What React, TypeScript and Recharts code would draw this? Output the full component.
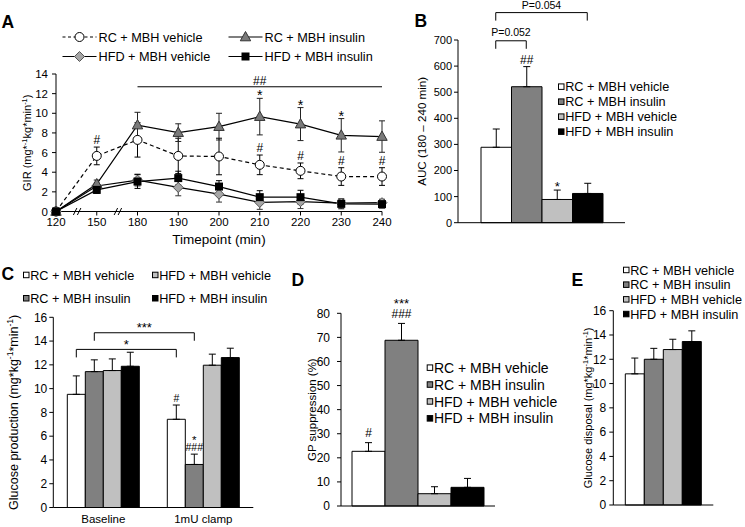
import React from 'react';
import { LineChart, Line, BarChart, Bar, XAxis, YAxis, ErrorBar, LabelList, ReferenceLine } from 'recharts';

const FONT = '"Liberation Sans", Arial, Helvetica, sans-serif';
const INK = '#000';

// groups shared by every panel
const groupNames = ['RC + MBH vehicle', 'RC + MBH insulin', 'HFD + MBH vehicle', 'HFD + MBH insulin'];
const groupFills = ['#ffffff', '#808080', '#c0c0c0', '#000000'];

// A: glucose infusion rate over time
const timepoints = ['120', '150', '180', '190', '200', '210', '220', '230', '240'];
const girRcVeh = [0, 5.66, 7.29, 5.66, 5.6, 4.75, 4.14, 3.56, 3.56];
const girRcVehErr = [0, 0.9, 1.75, 1.8, 1.86, 1.0, 0.8, 0.9, 0.9];
const girRcIns = [0, 2.8, 8.8, 8.03, 8.64, 9.66, 8.9, 7.76, 7.63];
const girRcInsErr = [0, 0.4, 1.3, 0.9, 1.36, 1.86, 1.68, 1.7, 1.6];
const girHfdVeh = [0, 2.6, 3.2, 2.45, 1.76, 0.92, 1.0, 0.85, 0.9];
const girHfdVehErr = [0, 0.3, 0.6, 0.85, 0.8, 0.7, 0.7, 0.4, 0.35];
const girHfdIns = [0, 2.2, 3.05, 3.4, 2.54, 1.46, 1.46, 0.78, 0.75];
const girHfdInsErr = [0, 0.35, 0.7, 0.7, 0.6, 0.66, 0.7, 0.5, 0.4];
const girRcVehMarks = ['', '#', '', '', '', '#', '#', '#', '#'];
const girRcInsMarks = ['', '', '', '', '', '*', '*', '*', ''];
const girTicks = [0, 2, 4, 6, 8, 10, 12, 14];
const girSigLevel = 12.7;

// B: AUC 180-240 min
const aucMeans = [289, 521, 89, 112];
const aucErrs = [70, 77, 36, 39];
const aucMarks = [[], ['##'], ['*'], []];
const aucTicks = [0, 100, 200, 300, 400, 500, 600, 700];
const aucBrackets = [
  { fromCat: 'AUC', fromBar: 0, toCat: 'AUC', toBar: 1, y: 697, text: 'P=0.052', gap: 8.7 },
  { fromCat: 'AUC', fromBar: 0, toCat: 'AUC', toBar: 3, y: 805, text: 'P=0.054', gap: 7.2 },
];

// C: glucose production
const prodCats = ['Baseline', '1mU clamp'];
const prodBaseline = [9.52, 11.43, 11.52, 11.88];
const prodBaselineErr = [1.55, 0.99, 0.98, 1.18];
const prodClamp = [7.42, 3.62, 11.97, 12.61];
const prodClampErr = [1.2, 0.87, 0.93, 0.79];
const prodBaselineMarks = [[], [], [], []];
const prodClampMarks = [['#'], ['*', '###'], [], []];
const prodTicks = [0, 2, 4, 6, 8, 10, 12, 14, 16];
const prodBrackets = [
  { fromCat: 'Baseline', fromBar: 0, toCat: '1mU clamp', toBar: 0, y: 13.3, text: '*', gap: 8.3 },
  { fromCat: 'Baseline', fromBar: 1, toCat: '1mU clamp', toBar: 1, y: 14.7, text: '***', gap: 8.3 },
];

// D: GP suppression
const suppMeans = [22.7, 68.8, 5.1, 7.75];
const suppErrs = [3.6, 7.0, 2.9, 3.7];
const suppMarks = [['#'], ['***', '###'], [], []];
const suppTicks = [0, 10, 20, 30, 40, 50, 60, 70, 80];

// E: glucose disposal
const dispMeans = [10.8, 12.0, 12.8, 13.46];
const dispErrs = [1.3, 0.9, 0.85, 0.88];
const dispTicks = [0, 2, 4, 6, 8, 10, 12, 14, 16];

type Part = { t: string; sup?: boolean };

const girTitle: Part[] = [{ t: 'GIR (mg*' }, { t: '-1', sup: true }, { t: 'kg*min' }, { t: '-1', sup: true }, { t: ')' }];
const prodTitle: Part[] = [{ t: 'Glucose production (mg*kg' }, { t: '-1', sup: true }, { t: '*min' }, { t: '-1', sup: true }, { t: ')' }];
const dispTitle: Part[] = [{ t: 'Glucose disposal (mg*kg' }, { t: '-1', sup: true }, { t: '*min' }, { t: '-1', sup: true }, { t: ')' }];

function SupText({ parts, x, y, fs, vertical = false }: { parts: Part[]; x: number; y: number; fs: number; vertical?: boolean }) {
  const bx = vertical ? x + fs * 0.35 : x;
  const by = vertical ? y : y + fs * 0.35;
  let shift = 0;
  const spans = parts.map((p, i) => {
    const target = p.sup ? -fs * 0.38 : 0;
    const dy = target - shift;
    shift = target;
    return (
      <tspan key={i} dy={dy} fontSize={p.sup ? fs * 0.68 : fs}>
        {p.t}
      </tspan>
    );
  });
  return (
    <text
      x={bx}
      y={by}
      transform={vertical ? `rotate(-90 ${bx} ${by})` : undefined}
      textAnchor="middle"
      fontSize={fs}
      fontFamily={FONT}
      fill={INK}
    >
      {spans}
    </text>
  );
}

const yTitle = (parts: Part[], dist: number, fs: number) => (props: any) => {
  const vb = props.viewBox || {};
  return <SupText parts={parts} x={vb.x + vb.width - dist} y={vb.y + vb.height / 2} fs={fs} vertical />;
};

const xTitle = (text: string, dy: number, fs: number) => (props: any) => {
  const vb = props.viewBox || {};
  return <SupText parts={[{ t: text }]} x={vb.x + vb.width / 2} y={vb.y + dy} fs={fs} />;
};

const tickStyle = (fs: number) => ({ fontSize: fs, fill: INK, fontFamily: FONT });

const glyphLift = (s: string, fs: number) => (s.includes('*') ? 0.6 : 0.36) * fs;

// one significance label, possibly two lines stacked above an error bar
function MarkStack({ cx, top, lines, gap, step, fs }: { cx: number; top: number; lines: string[]; gap: number; step: number; fs: number }) {
  const n = lines.length;
  return (
    <text x={cx} textAnchor="middle" fontFamily={FONT} fill={INK} fontSize={fs}>
      {lines.map((s, k) => {
        const c = top - gap - (n - 1 - k) * step;
        const size = s.includes('*') ? fs * 1.1 : fs;
        return (
          <tspan key={k} x={cx} y={c + glyphLift(s, size)} fontSize={size}>
            {s}
          </tspan>
        );
      })}
    </text>
  );
}

// markers
const CircleMark = ({ cx, cy }: any) => <circle cx={cx} cy={cy} r={4.5} fill="#fff" stroke={INK} strokeWidth={1} />;
const TriangleMark = ({ cx, cy }: any) => (
  <polygon points={`${cx},${cy - 5.5} ${cx - 5.2},${cy + 3.8} ${cx + 5.2},${cy + 3.8}`} fill="#7a7a7a" stroke="#333" strokeWidth={1} />
);
const DiamondMark = ({ cx, cy }: any) => (
  <polygon points={`${cx},${cy - 5} ${cx + 5},${cy} ${cx},${cy + 5} ${cx - 5},${cy}`} fill="#a6a6a6" stroke="#555" strokeWidth={1} />
);
const SquareMark = ({ cx, cy }: any) => <rect x={cx - 4} y={cy - 4} width={8} height={8} fill={INK} />;

const girRows = timepoints.map((t, i) => ({
  time: t,
  rcVeh: girRcVeh[i],
  rcVehErr: girRcVehErr[i],
  rcVehTop: girRcVeh[i] + girRcVehErr[i],
  rcVehMark: girRcVehMarks[i],
  rcIns: girRcIns[i],
  rcInsErr: girRcInsErr[i],
  rcInsTop: girRcIns[i] + girRcInsErr[i],
  rcInsMark: girRcInsMarks[i],
  hfdVeh: girHfdVeh[i],
  hfdVehErr: girHfdVehErr[i],
  hfdIns: girHfdIns[i],
  hfdInsErr: girHfdInsErr[i],
}));

const lineMark = (gap: number, fs: number) => (props: any) => {
  const vb = props.viewBox || props;
  const s = props.value;
  if (!s) return null;
  return <MarkStack cx={vb.x + (vb.width || 0) / 2} top={vb.y} lines={[s]} gap={gap} step={0} fs={fs} />;
};

const axisBreak = (p: any) => {
  const mx = (p.x1 + p.x2) / 2 + 2;
  const y = p.y1;
  return (
    <g>
      <line x1={mx - 5} y1={y + 3.5} x2={mx - 1.5} y2={y - 3.5} stroke={INK} strokeWidth={1} />
      <line x1={mx - 1} y1={y + 3.5} x2={mx + 2.5} y2={y - 3.5} stroke={INK} strokeWidth={1} />
    </g>
  );
};

const sigLine = (text: string) => (p: any) => (
  <g>
    <line x1={p.x1} y1={p.y1} x2={p.x2} y2={p.y2} stroke={INK} strokeWidth={1} />
    <text x={(p.x1 + p.x2) / 2} y={p.y1 - 6 + glyphLift(text, 12)} textAnchor="middle" fontSize={12} fontFamily={FONT} fill={INK}>
      {text}
    </text>
  </g>
);

function GirPanel() {
  const lineProps = { type: 'linear' as const, stroke: INK, strokeWidth: 1.2, isAnimationActive: false, activeDot: false };
  return (
    <div style={{ position: 'absolute', left: 0, top: 0 }}>
      <LineChart width={400} height={250} data={girRows} margin={{ top: 74, right: 18, bottom: 4, left: 0 }}>
        <XAxis
          dataKey="time"
          height={34.5}
          interval={0}
          tickSize={4}
          tickMargin={2}
          tick={tickStyle(11.5)}
          stroke={INK}
          label={xTitle('Timepoint (min)', 27.5, 13.5)}
        />
        <YAxis
          width={56}
          domain={[0, 14]}
          ticks={girTicks}
          interval={0}
          tickSize={4}
          tickMargin={4}
          tick={tickStyle(11.5)}
          stroke={INK}
          label={yTitle(girTitle, 29, 11)}
        />
        <ReferenceLine segment={[{ x: '120', y: 0 }, { x: '150', y: 0 }]} ifOverflow="visible" shape={axisBreak} />
        <ReferenceLine segment={[{ x: '150', y: 0 }, { x: '180', y: 0 }]} ifOverflow="visible" shape={axisBreak} />
        <ReferenceLine
          segment={[{ x: '180', y: girSigLevel }, { x: '240', y: girSigLevel }]}
          ifOverflow="visible"
          shape={sigLine('##')}
        />
        <Line {...lineProps} dataKey="rcVeh" strokeDasharray="4 3" dot={(p: any) => <CircleMark key={`c${p.index}`} cx={p.cx} cy={p.cy} />}>
          <ErrorBar dataKey="rcVehErr" width={3} stroke={INK} strokeWidth={1} />
        </Line>
        <Line {...lineProps} dataKey="hfdVeh" dot={(p: any) => <DiamondMark key={`d${p.index}`} cx={p.cx} cy={p.cy} />}>
          <ErrorBar dataKey="hfdVehErr" width={3} stroke="#333" strokeWidth={1} />
        </Line>
        <Line {...lineProps} dataKey="rcIns" dot={(p: any) => <TriangleMark key={`t${p.index}`} cx={p.cx} cy={p.cy} />}>
          <ErrorBar dataKey="rcInsErr" width={3} stroke="#222" strokeWidth={1} />
        </Line>
        <Line {...lineProps} dataKey="hfdIns" dot={(p: any) => <SquareMark key={`s${p.index}`} cx={p.cx} cy={p.cy} />}>
          <ErrorBar dataKey="hfdInsErr" width={3} stroke={INK} strokeWidth={1} />
        </Line>
        <Line dataKey="rcVehTop" stroke="none" dot={false} activeDot={false} isAnimationActive={false} legendType="none">
          <LabelList dataKey="rcVehMark" content={lineMark(7, 12)} />
        </Line>
        <Line dataKey="rcInsTop" stroke="none" dot={false} activeDot={false} isAnimationActive={false} legendType="none">
          <LabelList dataKey="rcInsMark" content={lineMark(6.5, 13)} />
        </Line>
      </LineChart>
    </div>
  );
}

type Bracket = { fromCat: string; fromBar: number; toCat: string; toBar: number; y: number; text: string; gap: number };

const bracketShape = (b: Bracket, barSize: number, nBars: number, leg: number, fs: number) => (p: any) => {
  const mid = (nBars - 1) / 2;
  const xa = p.x1 + (b.fromBar - mid) * barSize;
  const xb = p.x2 + (b.toBar - mid) * barSize;
  const y = p.y1;
  return (
    <g>
      <path d={`M${xa},${y + leg}V${y}H${xb}V${y + leg}`} fill="none" stroke={INK} strokeWidth={1} />
      <text x={(xa + xb) / 2} y={y - b.gap + glyphLift(b.text, fs)} textAnchor="middle" fontSize={fs} fontFamily={FONT} fill={INK}>
        {b.text}
      </text>
    </g>
  );
};

type BarPanelProps = {
  left: number;
  top: number;
  width: number;
  height: number;
  margin: { top: number; right: number; bottom: number; left: number };
  axisWidth: number;
  xHeight: number;
  categories: string[];
  means: number[][];
  errs: number[][];
  marks: string[][][];
  barSize: number;
  yMax: number;
  ticks: number[];
  tickFont: number;
  tickMargin: number;
  title: Part[];
  titleDist: number;
  titleFont: number;
  showCats?: boolean;
  brackets?: Bracket[];
  bracketFont?: number;
  markGap: number;
  markStep: number;
  markFont: number;
};

function BarPanel(props: BarPanelProps) {
  const { categories, means, errs, marks, barSize } = props;
  const rows = categories.map((c, ci) => {
    const r: any = { cat: c };
    means[ci].forEach((v, gi) => {
      r[`v${gi}`] = v;
      r[`e${gi}`] = errs[ci][gi];
    });
    return r;
  });
  const markContent = (gi: number) => (lp: any) => {
    const vb = lp.viewBox || lp;
    const i = lp.index;
    const lines = (marks[i] && marks[i][gi]) || [];
    if (!lines.length || !rows[i]) return null;
    const ppu = vb.height / rows[i][`v${gi}`];
    const topY = vb.y - rows[i][`e${gi}`] * ppu;
    return <MarkStack cx={vb.x + vb.width / 2} top={topY} lines={lines} gap={props.markGap} step={props.markStep} fs={props.markFont} />;
  };
  return (
    <div style={{ position: 'absolute', left: props.left, top: props.top }}>
      <BarChart width={props.width} height={props.height} data={rows} margin={props.margin} barGap={0}>
        <XAxis
          dataKey="cat"
          height={props.xHeight}
          stroke={INK}
          tickLine={false}
          tick={props.showCats ? tickStyle(11.5) : false}
          tickSize={6}
          tickMargin={1}
          interval={0}
        />
        <YAxis
          width={props.axisWidth}
          domain={[0, props.yMax]}
          ticks={props.ticks}
          interval={0}
          tickSize={4}
          tickMargin={props.tickMargin}
          tick={tickStyle(props.tickFont)}
          stroke={INK}
          label={yTitle(props.title, props.titleDist, props.titleFont)}
        />
        {groupFills.map((fill, gi) => (
          <Bar key={gi} dataKey={`v${gi}`} fill={fill} stroke={INK} strokeWidth={1} barSize={barSize} isAnimationActive={false}>
            <ErrorBar dataKey={(d: any) => [0, d[`e${gi}`]]} width={3.5} stroke={INK} strokeWidth={1} direction="y" />
            <LabelList content={markContent(gi)} />
          </Bar>
        ))}
        {(props.brackets || []).map((b, k) => (
          <ReferenceLine
            key={`br${k}`}
            segment={[{ x: b.fromCat, y: b.y }, { x: b.toCat, y: b.y }]}
            ifOverflow="visible"
            shape={bracketShape(b, barSize, groupFills.length, 8, props.bracketFont || 12)}
          />
        ))}
      </BarChart>
    </div>
  );
}

function SquareKey({ x, cy, fill, text, fs }: { x: number; cy: number; fill: string; text: string; fs: number }) {
  return (
    <g>
      <rect x={x + 0.5} y={cy - 2.8} width={5.5} height={5.5} fill={fill} stroke={INK} strokeWidth={1} />
      <text x={x + 7.2} y={cy + 0.36 * fs} fontSize={fs} fontFamily={FONT} fill={INK}>
        {text}
      </text>
    </g>
  );
}

function LineKey({ x, cy, dashed, Mark, text }: { x: number; cy: number; dashed?: boolean; Mark: any; text: string }) {
  return (
    <g>
      <line x1={x} y1={cy} x2={x + 34} y2={cy} stroke={INK} strokeWidth={1.2} strokeDasharray={dashed ? '3 2.5' : undefined} />
      <Mark cx={x + 17} cy={cy} />
      <text x={x + 36} y={cy + 0.36 * 12.7} fontSize={12.7} fontFamily={FONT} fill={INK}>
        {text}
      </text>
    </g>
  );
}

function Overlay() {
  const letter = (t: string, x: number, y: number) => (
    <text x={x} y={y} fontSize={17.5} fontWeight="bold" fontFamily={FONT} fill={INK}>
      {t}
    </text>
  );
  return (
    <svg width={745} height={527} style={{ position: 'absolute', left: 0, top: 0, pointerEvents: 'none' }}>
      {letter('A', 1.5, 28.3)}
      {letter('B', 414.5, 26.7)}
      {letter('C', 1.5, 280)}
      {letter('D', 291.5, 286)}
      {letter('E', 571.5, 285.7)}

      <LineKey x={62.5} cy={37} dashed Mark={CircleMark} text={groupNames[0]} />
      <LineKey x={228.5} cy={37} Mark={TriangleMark} text={groupNames[1]} />
      <LineKey x={62.5} cy={56.5} Mark={DiamondMark} text={groupNames[2]} />
      <LineKey x={228.5} cy={56.5} Mark={SquareMark} text={groupNames[3]} />

      {groupNames.map((g, i) => (
        <SquareKey key={`b${i}`} x={558} cy={86.7 + i * 15} fill={groupFills[i]} text={g} fs={12.7} />
      ))}

      <SquareKey x={23} cy={275} fill={groupFills[0]} text={groupNames[0]} fs={12.7} />
      <SquareKey x={152} cy={275} fill={groupFills[2]} text={groupNames[2]} fs={12.7} />
      <SquareKey x={23} cy={298.3} fill={groupFills[1]} text={groupNames[1]} fs={12.7} />
      <SquareKey x={152} cy={298.3} fill={groupFills[3]} text={groupNames[3]} fs={12.7} />

      {groupNames.map((g, i) => (
        <SquareKey key={`d${i}`} x={426.7} cy={367.7 + i * 16.9} fill={groupFills[i]} text={g} fs={14} />
      ))}

      {groupNames.map((g, i) => (
        <SquareKey key={`e${i}`} x={623} cy={270 + i * 14.7} fill={groupFills[i]} text={g} fs={12.7} />
      ))}
    </svg>
  );
}

export default function App() {
  return (
    <div style={{ position: 'absolute', left: 0, top: 0, width: 745, height: 527, background: '#fff', overflow: 'hidden' }}>
      <GirPanel />
      <BarPanel
        left={390}
        top={0}
        width={250}
        height={240}
        margin={{ top: 40, right: 15, bottom: 15.3, left: 0 }}
        axisWidth={68}
        xHeight={2}
        categories={['AUC']}
        means={[aucMeans]}
        errs={[aucErrs]}
        marks={[aucMarks]}
        barSize={30.5}
        yMax={700}
        ticks={aucTicks}
        tickFont={11}
        tickMargin={2}
        title={[{ t: 'AUC (180 \u2013 240 min)' }]}
        titleDist={36}
        titleFont={11.6}
        brackets={aucBrackets}
        bracketFont={10.5}
        markGap={7}
        markStep={12}
        markFont={12}
      />
      <BarPanel
        left={0}
        top={260}
        width={280}
        height={267}
        margin={{ top: 57.3, right: 26.7, bottom: 0, left: 0 }}
        axisWidth={53.3}
        xHeight={19.5}
        categories={prodCats}
        means={[prodBaseline, prodClamp]}
        errs={[prodBaselineErr, prodClampErr]}
        marks={[prodBaselineMarks, prodClampMarks]}
        barSize={18}
        yMax={16}
        ticks={prodTicks}
        tickFont={12}
        tickMargin={2}
        title={prodTitle}
        titleDist={40}
        titleFont={12.5}
        showCats
        brackets={prodBrackets}
        bracketFont={13}
        markGap={6.5}
        markStep={10.5}
        markFont={10.5}
      />
      <BarPanel
        left={280}
        top={260}
        width={230}
        height={267}
        margin={{ top: 53.3, right: 15, bottom: 19, left: 0 }}
        axisWidth={61}
        xHeight={2}
        categories={['GP']}
        means={[suppMeans]}
        errs={[suppErrs]}
        marks={[suppMarks]}
        barSize={33}
        yMax={80}
        ticks={suppTicks}
        tickFont={12}
        tickMargin={7}
        title={[{ t: 'GP suppression (%)' }]}
        titleDist={29.3}
        titleFont={11.5}
        markGap={10}
        markStep={13.3}
        markFont={12}
      />
      <BarPanel
        left={560}
        top={260}
        width={185}
        height={267}
        margin={{ top: 50.7, right: 31.7, bottom: 20, left: 0 }}
        axisWidth={53.3}
        xHeight={2}
        categories={['Rd']}
        means={[dispMeans]}
        errs={[dispErrs]}
        marks={[[[], [], [], []]]}
        barSize={19}
        yMax={16}
        ticks={dispTicks}
        tickFont={12}
        tickMargin={3}
        title={dispTitle}
        titleDist={25.3}
        titleFont={11}
        markGap={8}
        markStep={12}
        markFont={12}
      />
      <Overlay />
    </div>
  );
}
